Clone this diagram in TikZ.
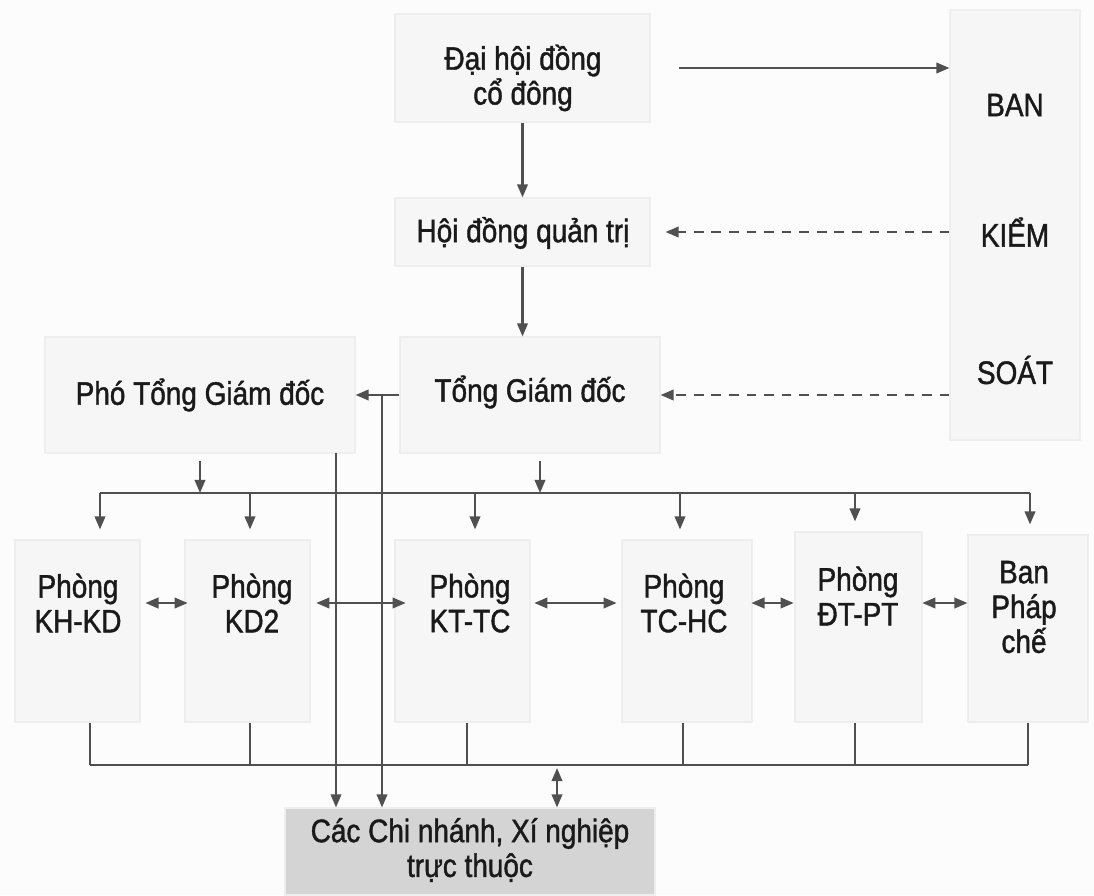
\documentclass[tikz,border=0pt]{standalone}
\usepackage{fontspec}
\setmainfont{Liberation Sans}[FakeStretch=0.86, FakeBold=1.3]
\usetikzlibrary{arrows.meta,fit}
\definecolor{ln}{HTML}{505050}
\definecolor{tx}{HTML}{1A1A1A}
\definecolor{bx}{HTML}{F6F6F6}
\definecolor{bxd}{HTML}{EEEEEE}
\definecolor{bot}{HTML}{D4D4D4}
\definecolor{bg}{HTML}{FCFCFC}
\begin{document}
\begin{tikzpicture}[x=0.02cm,y=-0.02cm,
  box/.style={draw=bxd, fill=bx, line width=0.6pt, inner sep=0pt},
  botbox/.style={draw=bxd, fill=bot, line width=0.6pt, inner sep=0pt},
  lbl/.style={text=tx, font=\fontsize{18.5}{19.8}\selectfont, align=center, inner sep=2pt},
  tip/.tip={Triangle[length=7.5pt,width=6pt]},
  ln/.style={draw=ln, line width=1.3pt},
  arr/.style={ln, -tip},
  darr/.style={ln, tip-tip, shorten <=0.4cm, shorten >=0.4cm},
  dsh/.style={arr, dash pattern=on 5.5pt off 4.5pt}]
\fill[bg] (0,0) rectangle (1094,895);
\useasboundingbox (0,0) rectangle (1094,895);

% boxes
\node[box, fit={(395,14) (650,122)}] (dhcd) {};
\node[box, fit={(950,10) (1080,440)}] (bks) {};
\node[box, fit={(395,198) (650,266)}] (hdqt) {};
\node[box, fit={(400,337) (660,453)}] (tgd) {};
\node[box, fit={(45,337) (355,453)}] (ptgd) {};
\node[box, fit={(15,540) (140,722)}] (khkd) {};
\node[box, fit={(185,540) (310,722)}] (kd2) {};
\node[box, fit={(395,540) (530,722)}] (kttc) {};
\node[box, fit={(622,540) (752,722)}] (tchc) {};
\node[box, fit={(795,532) (922,722)}] (dtpt) {};
\node[box, fit={(968,535) (1088,722)}] (bpc) {};
\node[botbox, fit={(285,808) (655,895)}] (cn) {};

% texts
\node[lbl] (dhcdT) at (523,78) {Đại hội đồng\\cổ đông};
\node[lbl] (ban) at (1015,105) {BAN};
\node[lbl] (kiem) at (1015,232) {KIỂM};
\node[lbl] (soat) at (1015,370) {SOÁT};
\node[lbl] (hdqtT) at (523,233) {Hội đồng quản trị};
\node[lbl] (tgdT) at (530,392) {Tổng Giám đốc};
\node[lbl] (ptgdT) at (200,395) {Phó Tổng Giám đốc};
\node[lbl] (khkdT) at (78,603) {Phòng\\KH-KD};
\node[lbl] (kd2T) at (252,603) {Phòng\\KD2};
\node[lbl] (kttcT) at (470,603) {Phòng\\KT-TC};
\node[lbl] (tchcT) at (684,603) {Phòng\\TC-HC};
\node[lbl] (dtptT) at (858,596) {Phòng\\ĐT-PT};
\node[lbl] (bpcT) at (1024,607) {Ban\\Pháp\\chế};
\node[lbl] (cnT) at (470,850) {Các Chi nhánh, Xí nghiệp\\trực thuộc};

% top connectors
\draw[arr, shorten <=0.56cm] (dhcd.east) -- (dhcd.east -| bks.west);
\draw[arr] (dhcd.south) -- (hdqt.north);
\draw[dsh, shorten >=0.3cm] (bks.west |- hdqt.east) -- (hdqt.east);
\draw[arr] (hdqt.south) -- (hdqt.south |- tgd.north);
\draw[dsh] (bks.west |- tgd.east) -- (tgd.east);
\draw[arr] (tgd.west) -- (tgd.west -| ptgd.east);

% lines to branches
\coordinate (j1) at (382,395);
\coordinate (j2) at (336,453);
\draw[arr] (j1) -- (j1 |- cn.north);
\draw[arr] (j2) -- (j2 |- cn.north);

% upper bus
\coordinate (busL) at (100,493);
\coordinate (busR) at (1030,493);
\coordinate (tgdS) at (540,453);
\draw[arr, shorten <=0.15cm] (ptgd.south) -- (ptgd.south |- busL);
\draw[arr, shorten <=0.15cm] (tgdS) -- (tgdS |- busL);
\draw[ln] (busL) -- (busR);
\foreach \x/\b in {100/khkd, 250/kd2, 475/kttc, 680/tchc, 855/dtpt, 1030/bpc}{
  \coordinate (d\b) at (\x,493);
  \draw[arr, shorten >=0.2cm] (d\b) -- (d\b |- \b.north);
}

% horizontal double arrows
\draw[darr] (khkdT.east |- 0,603) -- (kd2T.west |- 0,603);
\draw[darr] (kd2T.east |- 0,603) -- (kttcT.west |- 0,603);
\draw[darr] (kttcT.east |- 0,603) -- (tchcT.west |- 0,603);
\draw[darr] (tchcT.east |- 0,603) -- (dtptT.west |- 0,603);
\draw[darr] (dtptT.east |- 0,603) -- (bpcT.west |- 0,603);

% lower bus
\foreach \x/\b in {90/khkd, 250/kd2, 467/kttc, 683/tchc, 855/dtpt, 1028/bpc}{
  \coordinate (u\b) at (\x,765);
  \draw[ln] (u\b |- \b.south) -- (u\b);
}
\draw[ln] (ukhkd) -- (ubpc);
\coordinate (ucn) at (557,765);
\draw[ln, tip-tip, shorten <=0.06cm] (ucn) -- (ucn |- cn.north);
\end{tikzpicture}
\end{document}
